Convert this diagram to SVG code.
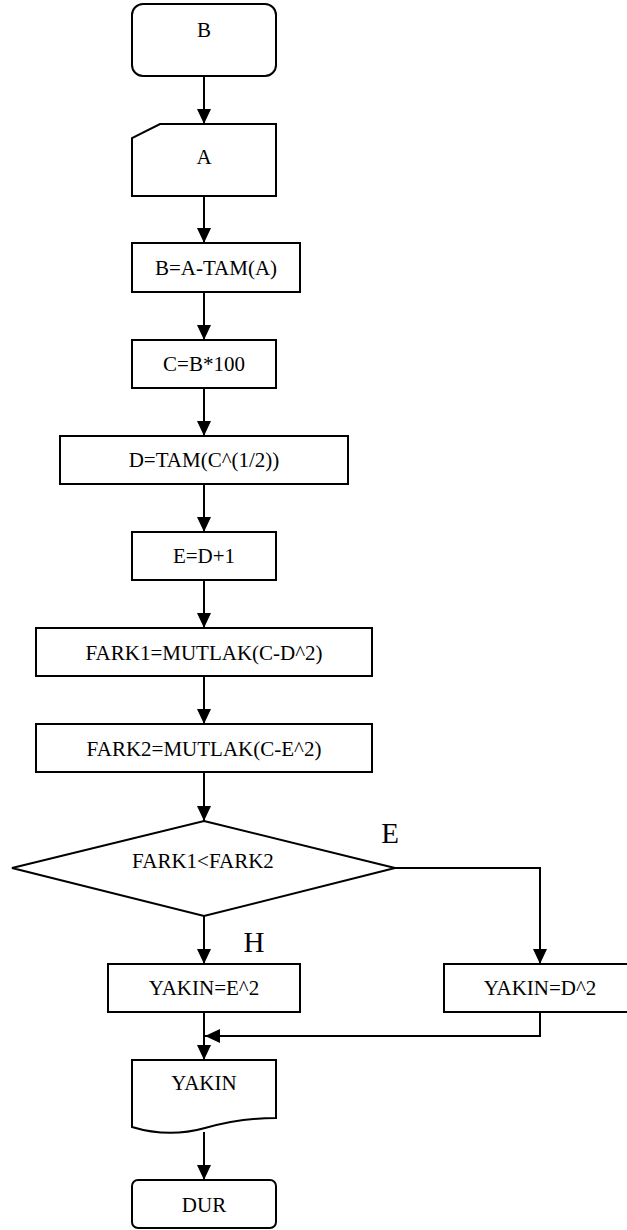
<svg xmlns="http://www.w3.org/2000/svg" width="627" height="1230" viewBox="0 0 627 1230">
  <style>
    .shape { fill: #fff; stroke: #000; stroke-width: 2; }
    .lbl { font-family: "Liberation Serif", "Times New Roman", serif; font-size: 21px; fill: #000; text-anchor: middle; }
    .big { font-family: "Liberation Serif", "Times New Roman", serif; font-size: 29px; fill: #000; text-anchor: middle; }
    .edge { fill: none; stroke: #000; stroke-width: 2; marker-end: url(#ah); }
  </style>
  <defs>
    <marker id="ah" markerWidth="15" markerHeight="14" refX="15" refY="7" orient="auto" markerUnits="userSpaceOnUse">
      <path d="M0,0 L15,7 L0,14 z" fill="#000"/>
    </marker>
  </defs>
  <rect width="627" height="1230" fill="#fff"/>

  <g id="connectors">
    <path class="edge" d="M204,76 V124"/>
    <path class="edge" d="M204,196 V243"/>
    <path class="edge" d="M204,292 V340"/>
    <path class="edge" d="M204,388 V436"/>
    <path class="edge" d="M204,484 V532"/>
    <path class="edge" d="M204,580 V628"/>
    <path class="edge" d="M204,676 V724"/>
    <path class="edge" d="M204,772 V821"/>
    <path class="edge" d="M204,916 V964"/>
    <path class="edge" d="M395,868 H540 V964"/>
    <path class="edge" d="M204,1012 V1060"/>
    <path class="edge" d="M540,1012 V1036 H205"/>
    <path class="edge" d="M204,1132 V1180"/>
  </g>

  <g id="start">
    <rect class="shape" x="132" y="4" width="144" height="72" rx="11"/>
    <text class="lbl" x="204" y="37">B</text>
  </g>

  <g id="input-a">
    <path class="shape" d="M160,124 H276 V196 H132 V138 Z"/>
    <text class="lbl" x="204" y="164">A</text>
  </g>

  <g id="calc-b">
    <rect class="shape" x="132" y="243" width="168" height="49"/>
    <text class="lbl" x="216" y="275">B=A-TAM(A)</text>
  </g>

  <g id="calc-c">
    <rect class="shape" x="132" y="340" width="144" height="48"/>
    <text class="lbl" x="204" y="371">C=B*100</text>
  </g>

  <g id="calc-d">
    <rect class="shape" x="60" y="436" width="288" height="48"/>
    <text class="lbl" x="204" y="467">D=TAM(C^(1/2))</text>
  </g>

  <g id="calc-e">
    <rect class="shape" x="132" y="532" width="144" height="48"/>
    <text class="lbl" x="204" y="563">E=D+1</text>
  </g>

  <g id="fark1">
    <rect class="shape" x="36" y="628" width="336" height="48"/>
    <text class="lbl" x="204" y="660">FARK1=MUTLAK(C-D^2)</text>
  </g>

  <g id="fark2">
    <rect class="shape" x="36" y="724" width="336" height="48"/>
    <text class="lbl" x="204" y="756">FARK2=MUTLAK(C-E^2)</text>
  </g>

  <g id="decision">
    <path class="shape" d="M204,821 L395,868 L204,916 L12,868 Z"/>
    <text class="lbl" x="203" y="868">FARK1&lt;FARK2</text>
    <text class="big" x="390" y="843">E</text>
    <text class="big" x="254" y="952">H</text>
  </g>

  <g id="yakin-e">
    <rect class="shape" x="108" y="964" width="192" height="48"/>
    <text class="lbl" x="204" y="995">YAKIN=E^2</text>
  </g>

  <g id="yakin-d">
    <rect class="shape" x="444" y="964" width="192" height="48"/>
    <text class="lbl" x="540" y="995">YAKIN=D^2</text>
  </g>

  <g id="output">
    <path class="shape" d="M132,1060 H276 V1118 C250,1118 230,1121 205,1128 C180,1135 155,1134 132,1127 Z"/>
    <text class="lbl" x="204" y="1090">YAKIN</text>
  </g>

  <g id="end">
    <rect class="shape" x="132" y="1180" width="144" height="48" rx="6"/>
    <text class="lbl" x="204" y="1212">DUR</text>
  </g>
</svg>
